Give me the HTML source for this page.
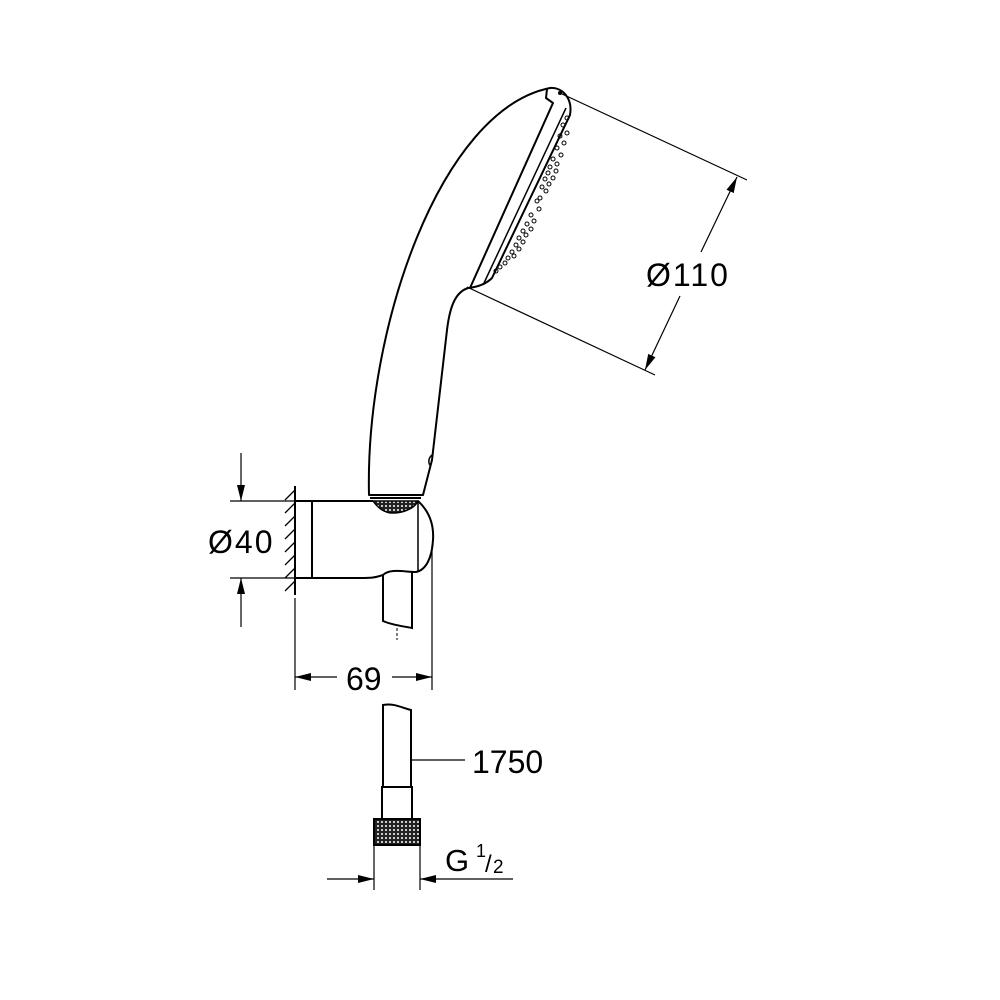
<!DOCTYPE html>
<html><head><meta charset="utf-8"><style>
html,body{margin:0;padding:0;background:#fff;}
svg{display:block;}
text{font-family:"Liberation Sans",sans-serif;fill:#000;}
</style></head><body>
<svg width="1000" height="1000" viewBox="0 0 1000 1000" xmlns="http://www.w3.org/2000/svg">
<defs>
<pattern id="knurl" width="4" height="4" patternUnits="userSpaceOnUse">
<rect width="4" height="4" fill="#222"/><circle cx="2" cy="2" r="1" fill="#fff"/>
</pattern>
<marker id="arB" viewBox="0 0 16 10" refX="16" refY="5" markerWidth="16" markerHeight="10" markerUnits="userSpaceOnUse" orient="auto"><path d="M0,1 L16,5 L0,9z" fill="#000"/></marker>
</defs>
<g fill="none" stroke="#000" stroke-width="2" stroke-linejoin="round">
<path d="M369,495 C365,330 440,110 550,88 C562,87 573,98 570,115 L492,278 C486,284 478,287 468,288 C456,292 450,305 447,330 L432,460 L423,495 Z"/>
<path d="M470,288 L553,103 L546,98 L547,89"/>
<circle cx="560" cy="93" r="2" fill="#000" stroke="none"/>
<path d="M484,283 L566,108" stroke-width="1.5"/>
<path d="M432,455 C428,458 428,464 431,466" stroke-width="1.5"/>
</g>
<line x1="370" y1="498" x2="421" y2="498" stroke="#000" stroke-width="2"/>
<g fill="none" stroke="#000" stroke-width="1">
<circle cx="567" cy="118" r="2"/><circle cx="563" cy="125" r="2"/><circle cx="567" cy="133" r="2"/><circle cx="560" cy="136" r="2"/><circle cx="564" cy="143" r="2"/><circle cx="557" cy="148" r="2"/><circle cx="561" cy="155" r="2"/><circle cx="553" cy="159" r="2"/><circle cx="557" cy="164" r="2"/><circle cx="550" cy="167" r="2"/><circle cx="556" cy="171" r="2"/><circle cx="548" cy="173" r="2"/><circle cx="545" cy="179" r="2"/><circle cx="553" cy="178" r="2"/><circle cx="549" cy="184" r="2"/><circle cx="542" cy="187" r="2"/><circle cx="546" cy="191" r="2"/><circle cx="540" cy="198" r="2"/><circle cx="537" cy="201" r="2"/><circle cx="539" cy="209" r="2"/><circle cx="531" cy="215" r="2"/><circle cx="534" cy="221" r="2"/><circle cx="527" cy="224" r="2"/><circle cx="531" cy="229" r="2"/><circle cx="523" cy="231" r="2"/><circle cx="526" cy="235" r="2"/><circle cx="519" cy="238" r="2"/><circle cx="523" cy="242" r="2"/><circle cx="516" cy="245" r="2"/><circle cx="519" cy="249" r="2"/><circle cx="512" cy="252" r="2"/><circle cx="514" cy="256" r="2"/><circle cx="508" cy="258" r="2"/><circle cx="505" cy="263" r="2"/><circle cx="500" cy="267" r="2"/><circle cx="496" cy="271" r="2"/>
</g>
<g fill="none" stroke="#000" stroke-width="2">
<path d="M295,501 L373,501 M418,501 C430,512 434,525 433,540 C432,558 426,570 416,572 C405,572 390,568 383,575 C375,578 370,578 360,578 L295,578"/>
<line x1="312" y1="501" x2="312" y2="578"/>
<line x1="418" y1="501" x2="418" y2="572" stroke-width="1.5"/>
<path d="M383,575 L383,621 C392,625 402,626 412,628 L412,572"/>
</g>
<path d="M373,501 L418,501 C414,510 400,513 393,513 C385,513 378,508 373,501Z" fill="url(#knurl)" stroke="#000" stroke-width="1.5"/>
<line x1="397" y1="628" x2="397" y2="640" stroke="#000" stroke-width="1" stroke-dasharray="3,2"/>
<g stroke="#000" fill="none">
<line x1="295" y1="486" x2="295" y2="595" stroke-width="2"/>
<path d="M295,490 l-10,10 M295,503 l-10,10 M295,516 l-10,10 M295,529 l-10,10 M295,542 l-10,10 M295,555 l-10,10 M295,568 l-10,10 M295,581 l-10,10" stroke-width="1.3"/>
</g>
<g stroke="#000" stroke-width="1.2" fill="none">
<line x1="230" y1="501" x2="295" y2="501"/>
<line x1="230" y1="578" x2="295" y2="578"/>
<line x1="241" y1="453" x2="241" y2="501" marker-end="url(#arB)"/>
<line x1="241" y1="627" x2="241" y2="578" marker-end="url(#arB)"/>
<line x1="295" y1="598" x2="295" y2="690"/>
<line x1="432" y1="545" x2="432" y2="690"/>
<line x1="337" y1="677" x2="295" y2="677" marker-end="url(#arB)"/>
<line x1="392" y1="677" x2="432" y2="677" marker-end="url(#arB)"/>
<line x1="560" y1="93" x2="747" y2="180"/>
<line x1="467" y1="287" x2="655" y2="375"/>
<line x1="701" y1="252" x2="737" y2="177" marker-end="url(#arB)"/>
<line x1="680" y1="296" x2="645" y2="370" marker-end="url(#arB)"/>
<line x1="411" y1="760" x2="465" y2="760"/>
<line x1="374" y1="845" x2="374" y2="890"/>
<line x1="420" y1="845" x2="420" y2="890"/>
<line x1="327" y1="879" x2="374" y2="879" marker-end="url(#arB)"/>
<line x1="513" y1="879" x2="420" y2="879" marker-end="url(#arB)"/>
</g>
<g fill="none" stroke="#000" stroke-width="2">
<path d="M383,787 L383,705 C395,703 402,708 411,710 L411,787"/>
<rect x="382" y="787" width="30" height="32"/>
</g>
<rect x="374" y="819" width="46" height="26" fill="url(#knurl)" stroke="#000" stroke-width="2"/>
<text x="208" y="553" font-size="32" letter-spacing="2">Ø40</text>
<text x="346" y="690" font-size="32">69</text>
<text x="646" y="286" font-size="32" letter-spacing="2">Ø110</text>
<text x="472" y="773" font-size="32">1750</text>
<text x="445" y="871" font-size="31">G</text>
<text x="476" y="857" font-size="18">1</text>
<text x="485" y="872" font-size="24">/</text>
<text x="493" y="873" font-size="19">2</text>
</svg>
</body></html>
